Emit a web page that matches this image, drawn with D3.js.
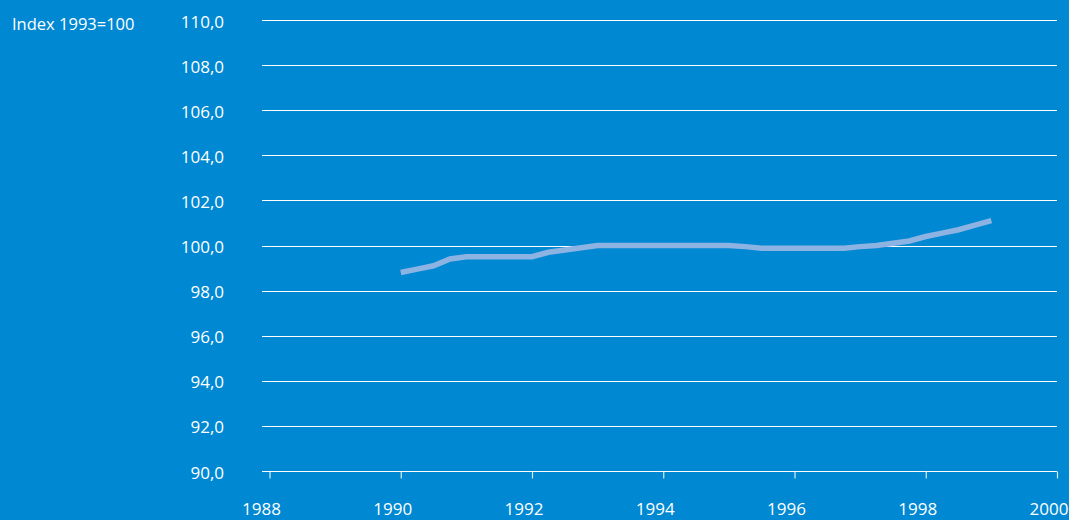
<!DOCTYPE html>
<html><head><meta charset="utf-8">
<script src="https://cdn.jsdelivr.net/npm/d3@7"></script>
<style>html,body{margin:0;padding:0;background:#0088d3;overflow:hidden}svg{display:block}</style>
</head><body>
<svg id="c" width="1069" height="520"></svg>
<script>
// Data: quarterly index, 1993=100
const periods = [1990.00,1990.25,1990.50,1990.75,1991.00,1991.25,1991.50,1991.75,1992.00,1992.25,1992.50,1992.75,
  1993.00,1993.25,1993.50,1993.75,1994.00,1994.25,1994.50,1994.75,1995.00,1995.25,1995.50,1995.75,
  1996.00,1996.25,1996.50,1996.75,1997.00,1997.25,1997.50,1997.75,1998.00,1998.25,1998.50,1998.75,1999.00];
const values = [98.8,98.95,99.1,99.4,99.5,99.5,99.5,99.5,99.5,99.7,99.8,99.9,
  100.0,100.0,100.0,100.0,100.0,100.0,100.0,100.0,100.0,99.95,99.88,99.88,
  99.88,99.88,99.88,99.88,99.95,100.0,100.1,100.2,100.4,100.55,100.7,100.9,101.1];
const yTicks = [90,92,94,96,98,100,102,104,106,108,110];
const xTicks = [1988,1990,1992,1994,1996,1998,2000];
const yLabel = "Index 1993=100";

const svg = d3.select("#c");
const font = "'Open Sans', 'Noto Sans', sans-serif";
const x = d3.scaleLinear().domain([1988,2000]).range([269.5,1057]);
const y = d3.scaleLinear().domain([90,110]).range([471,20]);
const gridX0 = 262, gridX1 = 1057;

// grid lines
svg.append("g").selectAll("line").data(yTicks).join("line")
  .attr("x1",gridX0).attr("x2",gridX1)
  .attr("y1",d=>Math.round(y(d))+0.5).attr("y2",d=>Math.round(y(d))+0.5)
  .attr("stroke","#ffffff").attr("stroke-width",1.2);

// y labels
svg.append("g").selectAll("text").data(yTicks).join("text")
  .attr("x",224).attr("y",d=>y(d)+7.5)
  .attr("text-anchor","end").attr("fill","#fff")
  .style("font-family",font).style("font-size","17px")
  .text(d=>d3.format(".1f")(d).replace(".",","));

// x axis
const xAxis = d3.axisBottom(x).tickValues(xTicks).tickFormat(d3.format("d")).tickSize(7);
const gx = svg.append("g").attr("transform",`translate(0,${Math.round(y(90))+0.5})`).call(xAxis);
gx.select(".domain").remove();
gx.selectAll(".tick line").attr("stroke","#d8ecf8").attr("stroke-width",1.2);
gx.selectAll(".tick text").attr("fill","#fff").attr("x",-8.5).attr("y",43).attr("dy",null)
  .style("font-family",font).style("font-size","17px");

// title
svg.append("text").attr("x",12).attr("y",29.5).attr("fill","#fff")
  .style("font-family",font).style("font-size","16.5px").text(yLabel);

// line
svg.append("path").datum(periods.map((p,i)=>[p,values[i]]))
  .attr("fill","none").attr("stroke","#8db3e2").attr("stroke-width",5.5)
  .attr("d",d3.line().x(d=>x(d[0])).y(d=>y(d[1])));
</script>
</body></html>
